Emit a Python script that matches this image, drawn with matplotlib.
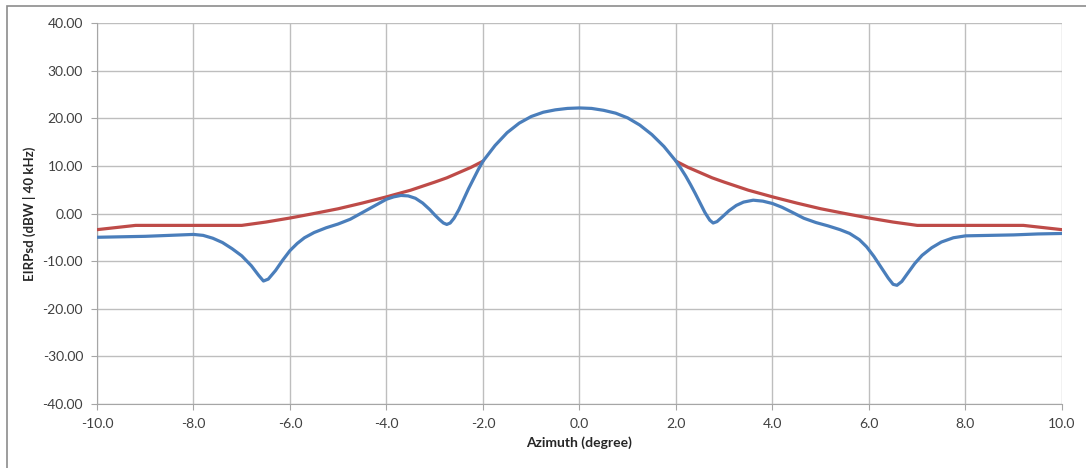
import numpy as np
import matplotlib.pyplot as plt
from matplotlib.patches import Rectangle

# measured EIRP density pattern (blue)
az_meas = [-10.0, -9.5, -9.0, -8.5, -8.0, -7.8, -7.6, -7.4, -7.2, -7.0, -6.8, -6.65, -6.55,
           -6.45, -6.3, -6.15, -6.0, -5.85, -5.7, -5.5, -5.25, -5.0, -4.75, -4.5, -4.25,
           -4.0, -3.85, -3.7, -3.55, -3.4, -3.25, -3.1, -3.0, -2.9, -2.82, -2.75, -2.68,
           -2.6, -2.5, -2.4, -2.3, -2.2, -2.1, -2.0, -1.75, -1.5, -1.25, -1.0, -0.75, -0.5,
           -0.25, 0.0, 0.25, 0.5, 0.75, 1.0, 1.25, 1.5, 1.75, 2.0, 2.1, 2.2, 2.3, 2.4,
           2.5, 2.6, 2.7, 2.77, 2.85, 2.95, 3.1, 3.25, 3.4, 3.6, 3.8, 4.0, 4.2, 4.4,
           4.65, 4.9, 5.15, 5.4, 5.6, 5.8, 5.95, 6.1, 6.25, 6.4, 6.5, 6.58, 6.68, 6.8,
           6.95, 7.1, 7.3, 7.5, 7.75, 8.0, 8.5, 9.0, 9.5, 10.0]
eirp_meas = [-5.0, -4.9, -4.8, -4.6, -4.4, -4.6, -5.2, -6.1, -7.4, -8.9, -11.0, -13.0, -14.2,
             -13.8, -12.0, -9.8, -7.8, -6.3, -5.1, -4.0, -3.0, -2.2, -1.2, 0.2, 1.6,
             3.0, 3.5, 3.8, 3.7, 3.2, 2.2, 0.8, -0.3, -1.3, -2.0, -2.3, -2.0,
             -1.0, 0.8, 3.0, 5.2, 7.2, 9.2, 11.0, 14.3, 17.0, 19.0, 20.4, 21.3, 21.8,
             22.1, 22.2, 22.1, 21.7, 21.1, 20.1, 18.6, 16.6, 14.1, 11.0, 9.5, 7.9, 6.1, 4.2,
             2.2, 0.2, -1.4, -2.0, -1.7, -0.8, 0.6, 1.7, 2.4, 2.8, 2.6, 2.1, 1.3, 0.3,
             -1.0, -1.9, -2.6, -3.4, -4.2, -5.5, -7.0, -9.0, -11.3, -13.6, -14.9, -15.1, -14.3, -12.6,
             -10.5, -8.8, -7.2, -6.0, -5.1, -4.7, -4.6, -4.5, -4.3, -4.2]

# regulatory mask (red)
az_mask = [-10.0, -9.2, -7.0, -6.5, -6.0, -5.5, -5.0, -4.5, -4.0, -3.5, -3.0, -2.75, -2.5,
           -2.25, -2.0, 2.0, 2.25, 2.5, 2.75, 3.0, 3.5, 4.0, 4.5, 5.0, 5.5, 6.0, 6.5,
           7.0, 9.2, 10.0]
eirp_mask = [-3.4, -2.5, -2.5, -1.8, -0.95, 0.0, 1.0, 2.2, 3.5, 4.9, 6.6, 7.5, 8.6,
             9.7, 11.0, 11.0, 9.7, 8.6, 7.5, 6.6, 4.9, 3.5, 2.2, 1.0, 0.0, -0.95, -1.8,
             -2.5, -2.5, -3.4]

x_ticks = np.arange(-10, 10.1, 2)
y_ticks = np.arange(-40, 40.1, 10)

plt.rcParams['font.family'] = ['Lato', 'DejaVu Sans']
fig = plt.figure(figsize=(10.86, 4.68), dpi=100)
ax = fig.add_axes([0.0893, 0.1374, 0.8886, 0.8128])

# the mask is only drawn outside the main lobe
left = [i for i, a in enumerate(az_mask) if a <= -2.0]
right = [i for i, a in enumerate(az_mask) if a >= 2.0]
for idx in (left, right):
    ax.plot([az_mask[i] for i in idx], [eirp_mask[i] for i in idx],
            color='#be4b48', lw=2.3, solid_capstyle='round', zorder=3)
ax.plot(az_meas, eirp_meas, color='#4a7ebb', lw=2.3, solid_joinstyle='round', zorder=4)

ax.set_xlim(-10, 10)
ax.set_ylim(-40, 40)
ax.set_xticks(x_ticks)
ax.set_yticks(y_ticks)
ax.set_xticklabels([f"{v:.1f}" for v in x_ticks])
ax.set_yticklabels([f"{v:.2f}" for v in y_ticks])
ax.grid(True, color='#bebebe', lw=1.0)
ax.set_axisbelow(True)
for s in ['top', 'right']:
    ax.spines[s].set_visible(False)
for s in ['left', 'bottom']:
    ax.spines[s].set_color('#a6a6a6')
ax.tick_params(colors='#a6a6a6', labelcolor='#404040', labelsize=10, length=4, pad=6)

ax.set_xlabel("Azimuth (degree)", fontsize=10, fontweight='bold', color='#262626', labelpad=5)
ax.set_ylabel("EIRPsd (dBW | 40 kHz)", fontsize=9.5, fontweight='bold', color='#262626', labelpad=5)

# outer chart border (cropped at right/bottom)
fig.patches.append(Rectangle((7 / 1086, -0.1), 1.2, 1 - 6 / 468 + 0.1, transform=fig.transFigure,
                             fill=False, edgecolor='#8c8c8c', lw=1.2))

plt.savefig("out.png")
